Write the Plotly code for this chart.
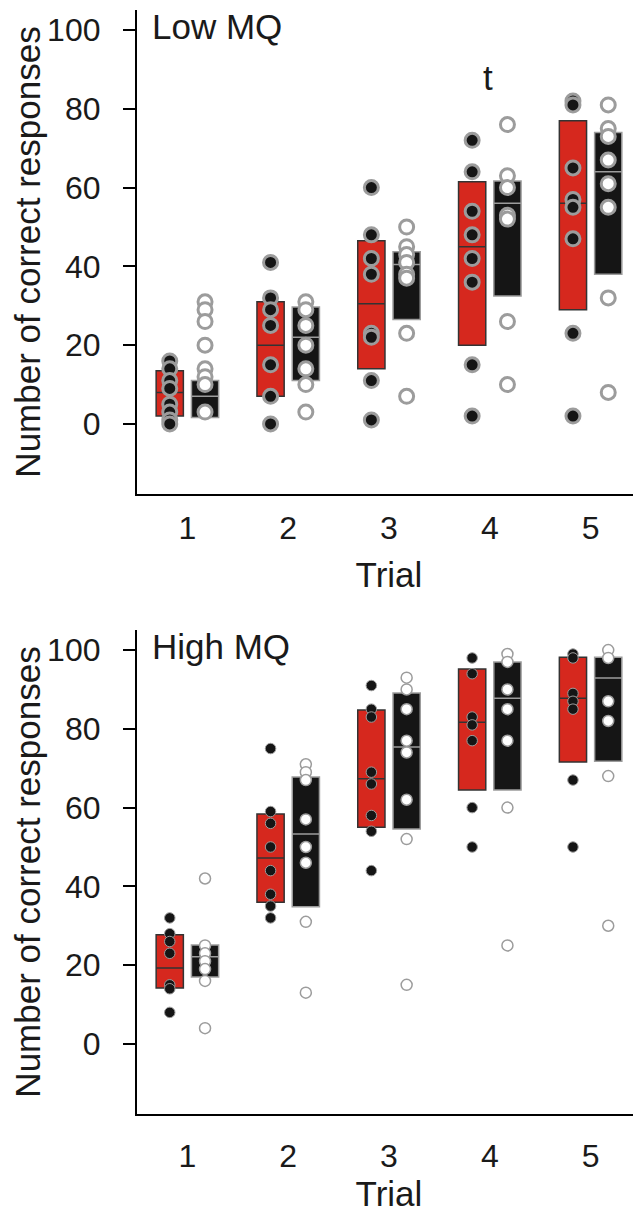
import plotly.graph_objects as go

trials = [1, 2, 3, 4, 5]
tick_vals_y = [0, 20, 40, 60, 80, 100]
panel_labels = ["Low MQ", "High MQ"]

# ---- Low MQ panel ----
low_red_q1 = [2, 7, 14, 20, 29]
low_red_med = [8, 20, 30.5, 45, 56]
low_red_q3 = [13.5, 31, 46.5, 61.5, 77]
low_red_pts = [
    [16, 14, 11, 9, 5, 3, 1, 0],
    [41, 32, 29, 25, 15, 7, 0],
    [60, 48, 42, 38, 23, 22, 11, 1],
    [72, 64, 54, 48, 42, 36, 15, 2],
    [82, 81, 65, 57, 55, 47, 23, 2],
]
low_black_q1 = [1.6, 11, 26.5, 32.5, 38]
low_black_med = [7, 22, 40.5, 56, 64]
low_black_q3 = [11, 29.7, 43.7, 61.7, 74]
low_black_pts = [
    [31, 29, 26, 20, 14, 12, 10, 3],
    [31, 29, 25, 20, 14, 10, 3],
    [50, 45, 43, 41, 38, 37, 23, 7],
    [76, 63, 60, 53, 52, 26, 10],
    [81, 75, 73, 67, 61, 55, 32, 8],
]

# ---- High MQ panel ----
high_red_q1 = [14.2, 36, 55, 64.5, 71.6]
high_red_med = [19.3, 47.2, 67.3, 81.7, 87.8]
high_red_q3 = [27.7, 58.4, 84.8, 95.2, 98.2]
high_red_pts = [
    [32, 28, 26, 23, 15, 14, 8],
    [75, 59, 56, 50, 44, 38, 35, 32],
    [91, 85, 83, 69, 66, 58, 54, 44],
    [98, 94, 83, 81, 77, 60, 50],
    [99, 98, 89, 87, 85, 67, 50],
]
high_black_q1 = [17, 34.8, 54.6, 64.5, 71.8]
high_black_med = [22.1, 53.3, 75.4, 87.8, 92.9]
high_black_q3 = [25.1, 67.8, 89.1, 97, 98.2]
high_black_pts = [
    [42, 25, 23, 21, 19, 16, 4],
    [71, 69, 67, 57, 50, 46, 31, 13],
    [93, 90, 85, 77, 74, 62, 52, 15],
    [99, 97, 90, 85, 77, 60, 25],
    [100, 98, 87, 82, 68, 30],
]

# annotation
sig_trial = 4
sig_y = 88
sig_text = "t"

FONT = "Liberation Sans, Arial, sans-serif"
TXT = "#1a1a1a"
RED = "#d6281e"
BLACK = "#151515"
GRAY = "#9c9c9c"
OFF = 0.175
BOXW = 0.27

# page is rendered with an 8px body margin
PAGE_OFF = 8
W = 641 - PAGE_OFF
H = 1219 - PAGE_OFF

def px_x(p):
    return (p - PAGE_OFF) / W

def px_y(p):
    return 1 - (p - PAGE_OFF) / H

fig = go.Figure()

panels = [
    ("x", "y", low_red_q1, low_red_med, low_red_q3, low_red_pts,
     low_black_q1, low_black_med, low_black_q3, low_black_pts, 14, 3, 14, 3),
    ("x2", "y2", high_red_q1, high_red_med, high_red_q3, high_red_pts,
     high_black_q1, high_black_med, high_black_q3, high_black_pts, 10.5, 1, 11, 1.5),
]

for (xa, ya, rq1, rmed, rq3, rpts, bq1, bmed, bq3, bpts,
     rsize, rlw, bsize, blw) in panels:
    xr = [t - OFF for t in trials]
    xb = [t + OFF for t in trials]
    fig.add_trace(go.Box(
        x=xr, q1=rq1, median=rmed, q3=rq3, lowerfence=rq1, upperfence=rq3,
        width=BOXW, fillcolor=RED, line=dict(color="#333333", width=1.5),
        xaxis=xa, yaxis=ya, showlegend=False, hoverinfo="skip"))
    fig.add_trace(go.Box(
        x=xb, q1=bq1, median=bmed, q3=bq3, lowerfence=bq1, upperfence=bq3,
        width=BOXW, fillcolor=BLACK, line=dict(color=GRAY, width=1.5),
        xaxis=xa, yaxis=ya, showlegend=False, hoverinfo="skip"))
    px_r, py_r, px_b, py_b = [], [], [], []
    for i, t in enumerate(trials):
        for v in rpts[i]:
            px_r.append(t - OFF)
            py_r.append(v)
        for v in bpts[i]:
            px_b.append(t + OFF)
            py_b.append(v)
    fig.add_trace(go.Scatter(
        x=px_r, y=py_r, mode="markers", xaxis=xa, yaxis=ya,
        marker=dict(size=rsize, color=BLACK, line=dict(color=GRAY, width=rlw)),
        showlegend=False, hoverinfo="skip"))
    fig.add_trace(go.Scatter(
        x=px_b, y=py_b, mode="markers", xaxis=xa, yaxis=ya,
        marker=dict(size=bsize, color="white", line=dict(color=GRAY, width=blw)),
        showlegend=False, hoverinfo="skip"))

x_dom = [px_x(137), 1.0]
top_dom = [px_y(494), px_y(10)]
bot_dom = [px_y(1114), px_y(630)]
yrange = [-17.8, 105.1]

def xaxis_cfg(anchor, standoff, tstand):
    return dict(domain=x_dom, range=[0.5, 5.5], anchor=anchor,
                tickvals=trials, ticktext=[str(t) for t in trials],
                ticks="", showgrid=False, zeroline=False,
                showline=True, linecolor="black", linewidth=2.2,
                tickfont=dict(family=FONT, size=32, color=TXT),
                ticklabelstandoff=standoff,
                title=dict(text="Trial", font=dict(family=FONT, size=35, color=TXT),
                           standoff=tstand),
                automargin=False)

def yaxis_cfg(anchor, dom):
    return dict(domain=dom, range=yrange, anchor=anchor,
                tickvals=tick_vals_y, ticks="outside", ticklen=12, tickwidth=2,
                tickcolor="black", showgrid=False, zeroline=False,
                showline=True, linecolor="black", linewidth=2.2,
                tickfont=dict(family=FONT, size=32, color=TXT),
                ticklabelstandoff=16,
                title=dict(text="Number of correct responses",
                           font=dict(family=FONT, size=35, color=TXT),
                           standoff=0),
                automargin=False)

fig.update_layout(
    width=W, height=H,
    margin=dict(l=0, r=0, t=0, b=0),
    plot_bgcolor="white", paper_bgcolor="white",
    boxmode="overlay",
    xaxis=xaxis_cfg("y", 4, 18),
    yaxis=yaxis_cfg("x", top_dom),
    xaxis2=xaxis_cfg("y2", 12, 8),
    yaxis2=yaxis_cfg("x2", bot_dom),
    annotations=[
        dict(text=panel_labels[0], xref="paper", x=px_x(150), xanchor="left",
             yref="y", y=100.8, yanchor="middle", showarrow=False,
             font=dict(family=FONT, size=35, color=TXT)),
        dict(text=panel_labels[1], xref="paper", x=px_x(150), xanchor="left",
             yref="y2", y=100.8, yanchor="middle", showarrow=False,
             font=dict(family=FONT, size=35, color=TXT)),
        dict(text=sig_text, xref="x", x=sig_trial - 0.02, yref="y", y=sig_y,
             showarrow=False, font=dict(family=FONT, size=35, color=TXT)),
    ],
)

fig.write_html("out.html")
